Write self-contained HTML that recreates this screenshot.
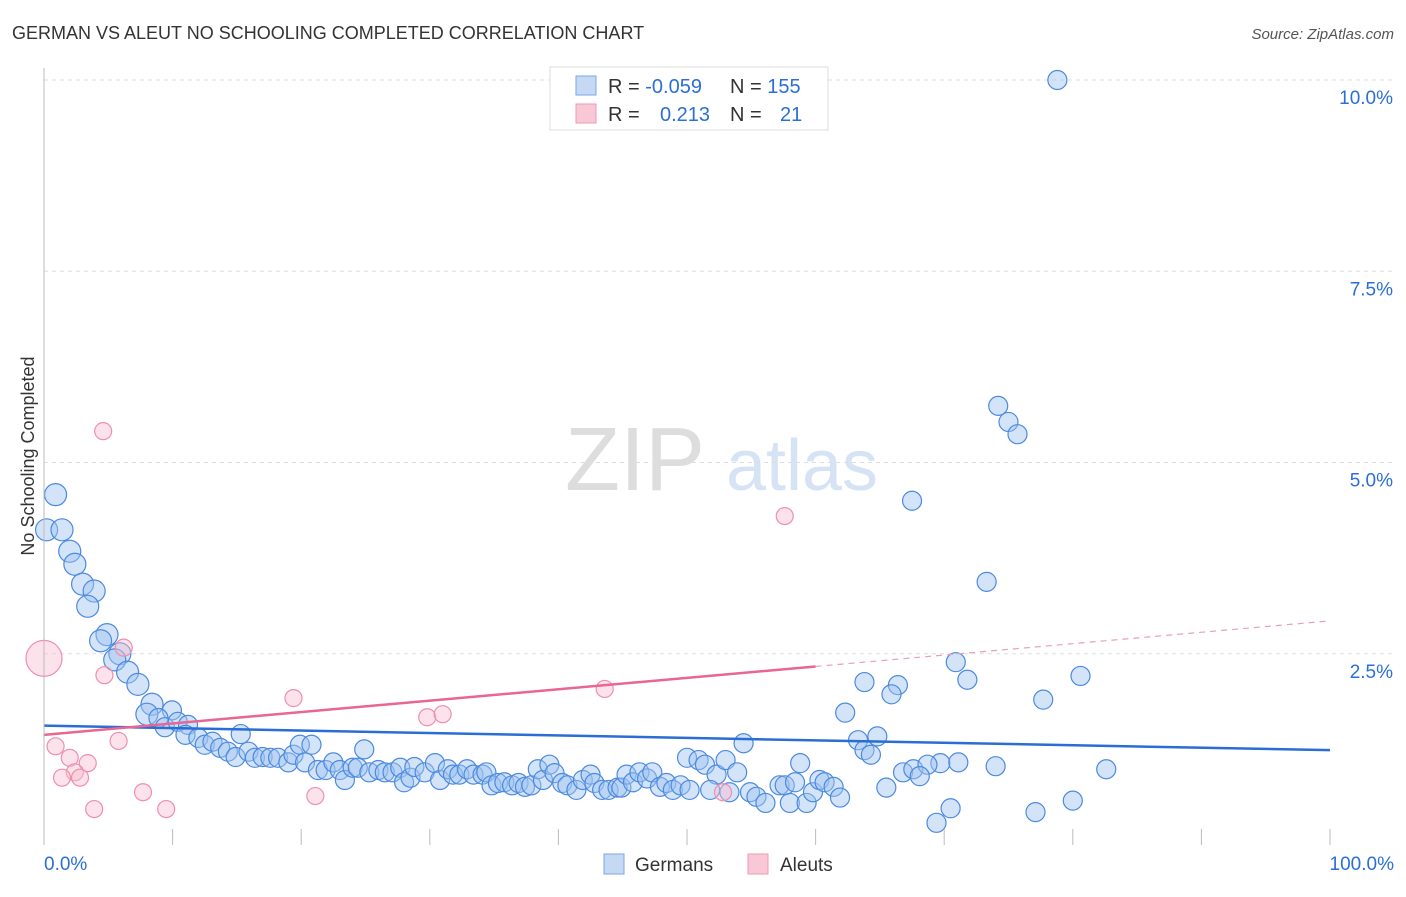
<!DOCTYPE html>
<html><head><meta charset="utf-8"><style>
body{margin:0;background:#fff;font-family:"Liberation Sans",sans-serif}
svg text{font-family:"Liberation Sans",sans-serif}
</style></head><body>
<svg id="chart" width="1406" height="892">
<text x="12" y="39" font-size="18" fill="#333">GERMAN VS ALEUT NO SCHOOLING COMPLETED CORRELATION CHART</text>
<text x="1394" y="39" font-size="15" fill="#555" font-style="italic" text-anchor="end">Source: ZipAtlas.com</text>
<g><text x="635" y="490" font-size="90" fill="#ddd" font-family="Liberation Serif" text-anchor="middle">ZIP</text><text x="802" y="490" font-size="72" fill="#d5e3f5" text-anchor="middle">atlas</text></g>
<g id="grid"></g><g id="pts"></g><g id="lines"></g><g id="axes"></g>
<text transform="translate(34,456) rotate(-90)" font-size="18" fill="#333" text-anchor="middle">No Schooling Completed</text>
<g>
<rect x="550" y="67" width="278" height="63" fill="#fff" stroke="#ddd"/>
<rect x="576" y="76" width="20" height="19" fill="#c5d9f5" stroke="#7aa6e6"/>
<rect x="576" y="104" width="20" height="19" fill="#f8c8d6" stroke="#ee9ab3"/>
<text x="608" y="93" font-size="20" fill="#333">R = <tspan fill="#2b6fd6">-0.059</tspan></text>
<text x="730" y="93" font-size="20" fill="#333">N = <tspan fill="#2b6fd6">155</tspan></text>
<text x="608" y="121" font-size="20" fill="#333">R = <tspan fill="#2b6fd6" x="660">0.213</tspan></text>
<text x="730" y="121" font-size="20" fill="#333">N = <tspan fill="#2b6fd6" x="780">21</tspan></text>
</g>
<g>
<rect x="604" y="854" width="20" height="20" fill="#c5d9f5" stroke="#7aa6e6"/><text x="635" y="871" font-size="19" fill="#333">Germans</text>
<rect x="748" y="854" width="20" height="20" fill="#f8c8d6" stroke="#ee9ab3"/><text x="780" y="871" font-size="19" fill="#333">Aleuts</text>
</g>
</svg>
<script>
const yTicks=[2.5,5.0,7.5,10.0];
const xTickLabels=["0.0%","100.0%"];
const germanX=[0.9,0.2,1.4,2.0,2.4,3.0,3.9,3.4,4.9,4.4,5.9,5.5,6.5,7.3,8.4,8.0,9.95,8.9,9.4,10.4,11.2,11.0,12.0,12.5,13.1,13.7,15.3,14.3,14.9,15.9,16.4,17.0,17.6,18.2,19.0,19.4,19.9,20.8,20.3,21.3,21.9,22.5,23.0,23.4,24.0,24.4,24.9,25.3,26.0,26.5,27.1,27.7,28.0,28.5,28.8,
29.6,30.4,30.8,31.4,31.8,32.3,32.9,33.4,34.1,34.4,34.8,35.3,35.8,36.4,36.9,37.4,37.9,38.4,38.8,39.3,39.7,40.3,40.7,41.4,41.9,42.5,42.8,43.4,43.9,44.6,44.9,45.3,45.8,46.3,46.9,47.3,47.9,48.4,48.9,49.5,50.2,50.0,50.9,51.4,52.3,51.8,53.0,53.3,53.9,54.4,54.9,55.4,56.1,57.2,57.6,58.4,58.8,58.0,59.3,59.8,60.3,60.7,61.4,61.9,63.3,
78.8,74.2,75.0,75.7,67.5,73.3,70.9,63.8,66.4,71.8,80.6,65.9,77.7,62.3,64.8,63.8,64.3,69.7,71.1,74.0,82.6,66.8,67.6,68.7,68.1,65.5,70.5,69.4,77.1,80.0];
const germanY=[4.58,4.12,4.12,3.84,3.67,3.41,3.32,3.12,2.75,2.67,2.50,2.42,2.26,2.10,1.84,1.71,1.76,1.66,1.54,1.61,1.57,1.44,1.40,1.31,1.35,1.27,1.45,1.22,1.15,1.22,1.14,1.15,1.14,1.14,1.08,1.18,1.31,1.31,1.08,0.98,0.98,1.08,0.98,0.85,1.01,1.01,1.25,0.95,0.98,0.95,0.95,1.01,0.82,0.88,1.02,
0.95,1.07,0.85,0.99,0.92,0.92,0.99,0.92,0.92,0.95,0.78,0.81,0.82,0.78,0.81,0.76,0.78,0.99,0.85,1.05,0.94,0.81,0.78,0.72,0.85,0.92,0.81,0.72,0.72,0.75,0.75,0.92,0.82,0.95,0.87,0.95,0.76,0.81,0.72,0.78,0.72,1.14,1.11,1.05,0.92,0.72,1.11,0.69,0.95,1.33,0.69,0.63,0.55,0.78,0.78,0.82,1.07,0.55,0.55,0.69,0.85,0.82,0.76,0.62,1.37,
10.0,5.74,5.53,5.37,4.50,3.44,2.39,2.13,2.09,2.16,2.21,1.97,1.90,1.73,1.42,1.24,1.18,1.07,1.08,1.03,0.99,0.95,0.99,1.05,0.90,0.75,0.48,0.29,0.43,0.58];
const aleutX=[0,4.6,6.2,4.7,5.8,0.9,2.0,3.4,2.4,1.4,2.8,3.9,7.7,9.5,19.4,21.1,29.8,31.0,43.6,57.6,52.8];
const aleutY=[2.44,5.41,2.58,2.22,1.36,1.29,1.14,1.07,0.95,0.88,0.88,0.47,0.69,0.47,1.92,0.64,1.67,1.71,2.04,4.30,0.69];
const germanTrend=[1.56,1.24];
const aleutTrend=[1.44,2.93];
const aleutSolidEnd=60;
const X=v=>44+v*12.86, Y=v=>845-v*76.5;
const NS="http://www.w3.org/2000/svg";
function mk(t,a,p){const e=document.createElementNS(NS,t);for(const k in a)e.setAttribute(k,a[k]);p.appendChild(e);return e;}
const grid=document.getElementById('grid'),pts=document.getElementById('pts'),lines=document.getElementById('lines'),axes=document.getElementById('axes');
yTicks.forEach(t=>{
 const l=mk('line',{x1:44,x2:1394,y1:Y(t),y2:Y(t),stroke:'#ddd','stroke-dasharray':'4,4'},grid);
 
 
 const tx=mk('text',{x:1393,y:Y(t)+24,'font-size':19,fill:'#2b6fd6','text-anchor':'end'},axes);
 tx.textContent=t.toFixed(1)+'%';
 
 
});
mk('line',{x1:44,x2:44,y1:68,y2:845,stroke:'#bbb'},axes);
for(let i=1;i<=10;i++){const l=mk('line',{x1:X(i*10),x2:X(i*10),y1:829,y2:845,stroke:'#bbb'},axes);
 
 }
const xl0=mk('text',{x:44,y:870,'font-size':19,fill:'#2b6fd6'},axes);xl0.textContent=xTickLabels[0];


const xl1=mk('text',{x:1394,y:870,'font-size':19,fill:'#2b6fd6','text-anchor':'end'},axes);xl1.textContent=xTickLabels[1];


germanX.forEach((x,i)=>{const r=i<16?11:9.5;
 const c=mk('circle',{cx:X(x),cy:Y(germanY[i]),r:r,fill:'rgba(160,195,240,0.45)',stroke:'#4c8ae0','stroke-width':1.2},pts);
 
 });
aleutX.forEach((x,i)=>{const r=i==0?18:8.5;
 const c=mk('circle',{cx:X(x),cy:Y(aleutY[i]),r:r,fill:'rgba(248,190,208,0.45)',stroke:'#ee8fae','stroke-width':1.2},pts);
 
 });
const g=mk('line',{x1:X(0),x2:X(100),y1:Y(germanTrend[0]),y2:Y(germanTrend[1]),stroke:'#2a6dd4','stroke-width':2.5},lines);


const am=aleutTrend[0]+(aleutTrend[1]-aleutTrend[0])*aleutSolidEnd/100;
const a=mk('line',{x1:X(0),x2:X(aleutSolidEnd),y1:Y(aleutTrend[0]),y2:Y(am),stroke:'#e8668f','stroke-width':2.5},lines);


const ad=mk('line',{x1:X(aleutSolidEnd),x2:X(100),y1:Y(am),y2:Y(aleutTrend[1]),stroke:'#e8a0b6','stroke-width':1.2,'stroke-dasharray':'6,5'},lines);


</script>
</body></html>
